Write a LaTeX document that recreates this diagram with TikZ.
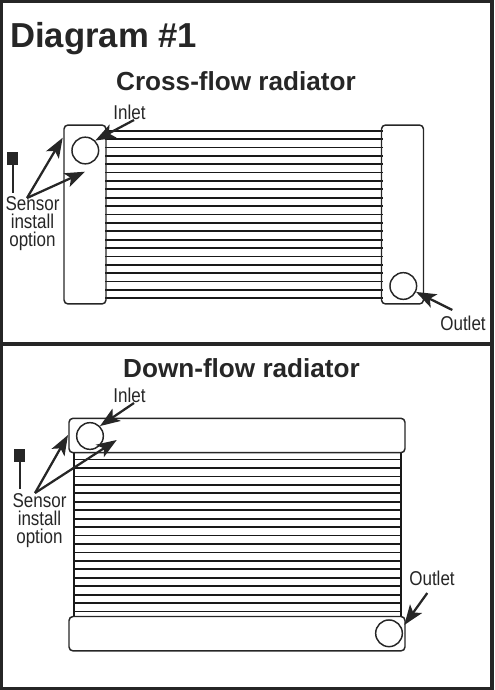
\documentclass[tikz,border=0pt]{standalone}
\usepackage{fontspec}
\setmainfont{Liberation Sans}
\newfontfamily\narrowfont[FakeStretch=0.85]{Liberation Sans}
\usepackage{tikz}
\usetikzlibrary{arrows.meta, positioning}

\begin{document}
\begin{tikzpicture}[
    x=0.75pt, y=-0.75pt,
    tank/.style={draw=black!85, line width=1.1pt, rounded corners=3pt, inner sep=0pt},
    port/.style={circle, draw=black!85, line width=1.1pt, fill=white, minimum size=20pt, inner sep=0pt},
    tube/.style={draw=black!90, line width=1.3pt},
    arrow/.style={draw=black!85, line width=1.7pt, -{Stealth[length=15pt, width=11pt, inset=3.5pt]}},
    panel/.style={draw=black!85, line width=3pt},
    probe/.style={fill=black!85, minimum width=8pt, minimum height=10pt, inner sep=0pt},
    stem/.style={draw=black!85, line width=1.5pt},
    title/.style={font=\bfseries\fontsize{19.6}{22}\selectfont, text=black!85, inner sep=0pt},
    note/.style={font=\narrowfont\fontsize{15}{13.5}\selectfont, text=black!85, inner sep=0pt, align=center}
]
\useasboundingbox (0,0) rectangle (495,690);

% Panels
\draw [panel] (1,1) rectangle (492,344);
\draw [panel] (1,344) rectangle (492,689);

% Titles
\node (diagram) [title, font=\bfseries\fontsize{26}{28}\selectfont, anchor=west] at (10,39) {Diagram \#1};
\node (crosstitle) [title] at (236,81) {Cross-flow radiator};
\node (downtitle) [title] at (241.5,368) {Down-flow radiator};

% Cross-flow tubes
\foreach \y in {0,...,20}
    \draw [tube] (105,{130.7+\y*8.38}) -- (383,{130.7+\y*8.38});

% Cross-flow tanks
\node (lefttank) [tank, minimum width=31.5pt, minimum height=134.2pt] at (85,214.5) {};
\node (righttank) [tank, minimum width=31.5pt, minimum height=134.2pt] at (402.5,214.5) {};
\node (crossinlet) [port] at (85.3,150.5) {};
\node (crossoutlet) [port] at (403.3,286) {};

% Cross-flow labels
\node (crossinlettext) [note] at (129.5,112) {Inlet};
\node (crossoutlettext) [note] at (463,323) {Outlet};
\node (crosssensor) [note] at (32.5,224) {Sensor\\install\\option};

% Cross-flow sensor
\node (crossprobe) [probe] at (12.8,158.5) {};
\coordinate (crossprobeend) at (12.8,193);
\draw [stem] (crossprobe) -- (crossprobeend);

% Cross-flow arrows
\coordinate (crossfork) at (27,198);
\coordinate (crosswall) at (62.7,137.7);
\coordinate (crossinner) at (85,171.7);
\coordinate (crossinlettail) at (134,120);
\coordinate (crossoutlettail) at (452.3,310);
\draw [arrow] (crossfork) -- (crosswall);
\draw [arrow] (crossfork) -- (crossinner);
\draw [arrow] (crossinlettail) -- (crossinlet.north east);
\draw [arrow] (crossoutlettail) -- (crossoutlet.-25);

% Down-flow tubes
\foreach \y in {0,...,18}
    \draw [tube] (73,{459.5+\y*8.45}) -- (401,{459.5+\y*8.45});
\draw [tube] (74.3,453) -- (74.3,618);
\draw [tube] (400.7,453) -- (400.7,618);

% Down-flow tanks
\node (toptank) [tank, minimum width=252pt, minimum height=25.8pt, fill=white] at (237,435.5) {};
\node (bottomtank) [tank, minimum width=252pt, minimum height=25.8pt, fill=white] at (237,633.7) {};
\node (downinlet) [port] at (90,436) {};
\node (downoutlet) [port] at (389,633.3) {};

% Down-flow labels
\node (downinlettext) [note] at (129.5,395) {Inlet};
\node (downoutlettext) [note] at (432,578) {Outlet};
\node (downsensor) [note] at (39.5,521) {Sensor\\install\\option};

% Down-flow sensor
\node (downprobe) [probe] at (19.5,455.5) {};
\coordinate (downprobeend) at (19.5,489);
\draw [stem] (downprobe) -- (downprobeend);

% Down-flow arrows
\coordinate (downfork) at (35,493);
\coordinate (downwall) at (68,435);
\coordinate (downinner) at (116.7,440);
\coordinate (downinlettail) at (134,403);
\coordinate (downoutlettail) at (427.3,593);
\coordinate (downoutlettip) at (404.3,625);
\draw [arrow] (downfork) -- (downwall);
\draw [arrow] (downfork) -- (downinner);
\draw [arrow] (downinlettail) -- (downinlet.north east);
\draw [arrow] (downoutlettail) -- (downoutlettip);

\end{tikzpicture}
\end{document}
